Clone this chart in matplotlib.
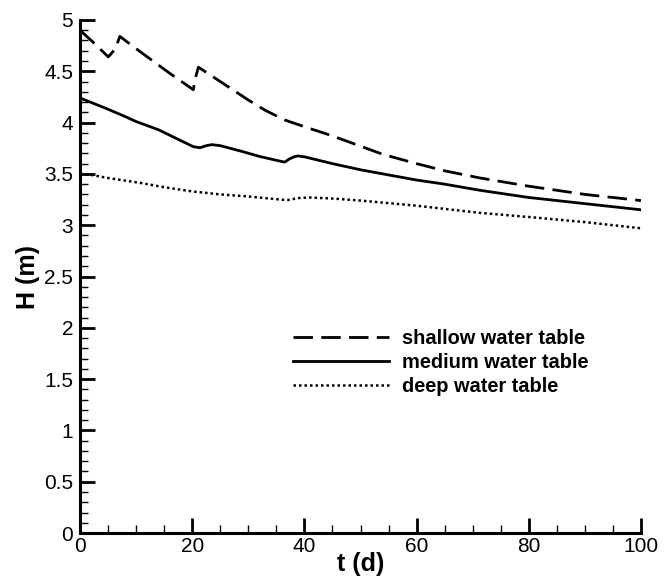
import numpy as np
import matplotlib
matplotlib.use('Agg')
import matplotlib.pyplot as plt
from matplotlib.ticker import MultipleLocator

plt.rcParams['font.family'] = ['Liberation Sans', 'DejaVu Sans']

# values
t_shallow = [0, 2, 5.05, 6.3, 7.1, 10, 13, 16, 20.2, 20.5, 21.1, 25, 30, 33, 36.5, 40, 45, 50,
             54, 60, 65, 71.3, 80, 90, 100]
h_shallow = [4.90, 4.80, 4.64, 4.72, 4.84, 4.72, 4.60, 4.48, 4.32, 4.42, 4.54, 4.40, 4.22, 4.12,
             4.025, 3.96, 3.87, 3.77, 3.69, 3.60, 3.53, 3.46, 3.38, 3.30, 3.24]

t_medium = [0, 5, 8, 10, 14, 17, 20.2, 21.4, 22.5, 23.5, 25, 28.8, 32, 36, 36.5, 37.3, 38.2,
            38.9, 40.1, 45, 50, 53.5, 60, 65, 71.3, 80, 90, 100]
h_medium = [4.24, 4.13, 4.06, 4.01, 3.93, 3.85, 3.765, 3.755, 3.775, 3.785, 3.775, 3.72, 3.67,
            3.62, 3.615, 3.645, 3.668, 3.675, 3.665, 3.60, 3.54, 3.505, 3.44, 3.40, 3.34, 3.27,
            3.21, 3.15]

t_deep = [0, 2, 5, 11, 15, 19.9, 25, 30, 35.7, 37, 39, 41, 45, 50, 60, 71.3, 80, 90, 100]
h_deep = [3.50, 3.49, 3.46, 3.41, 3.37, 3.33, 3.30, 3.28, 3.25, 3.245, 3.265, 3.27, 3.26, 3.24,
          3.19, 3.12, 3.08, 3.03, 2.97]

labels = ['shallow water table', 'medium water table', 'deep water table']

fig = plt.figure(figsize=(6.68, 5.79), dpi=100)
ax = fig.add_axes([0.1198, 0.0794, 0.8398, 0.8861])

ax.plot(t_shallow, h_shallow, color='black', lw=2.0, linestyle=(0, (7, 3)), label=labels[0])
ax.plot(t_medium, h_medium, color='black', lw=2.0, linestyle='-', label=labels[1])
ax.plot(t_deep, h_deep, color='black', lw=1.8, linestyle=(0, (1, 1.2)), label=labels[2])

ax.set_xlim(0, 100)
ax.set_ylim(0, 5)
ax.xaxis.set_major_locator(MultipleLocator(20))
ax.xaxis.set_minor_locator(MultipleLocator(5))
ax.yaxis.set_major_locator(MultipleLocator(0.5))
ax.yaxis.set_minor_locator(MultipleLocator(0.1))
ax.yaxis.set_major_formatter(plt.FuncFormatter(lambda v, p: ('%g' % v)))

for s in ['top', 'right']:
    ax.spines[s].set_visible(False)
for s in ['left', 'bottom']:
    ax.spines[s].set_linewidth(2.2)

ax.tick_params(which='major', direction='in', length=11, width=2, labelsize=15)
ax.tick_params(which='minor', direction='in', length=5.5, width=1)
ax.tick_params(axis='y', which='major', pad=5)
ax.tick_params(axis='x', which='major', pad=3)

ax.set_xlabel('t (d)', fontsize=18, fontweight='bold', labelpad=-3)
ax.set_ylabel('H (m)', fontsize=18, fontweight='bold', labelpad=3)

ax.legend(loc='center left', bbox_to_anchor=(0.38, 0.333), frameon=False, borderpad=0,
          borderaxespad=0, handlelength=4.8, handletextpad=0.65, labelspacing=0.25,
          prop={'size': 14.4, 'weight': 'bold'})

fig.savefig('out.png', dpi=100)
